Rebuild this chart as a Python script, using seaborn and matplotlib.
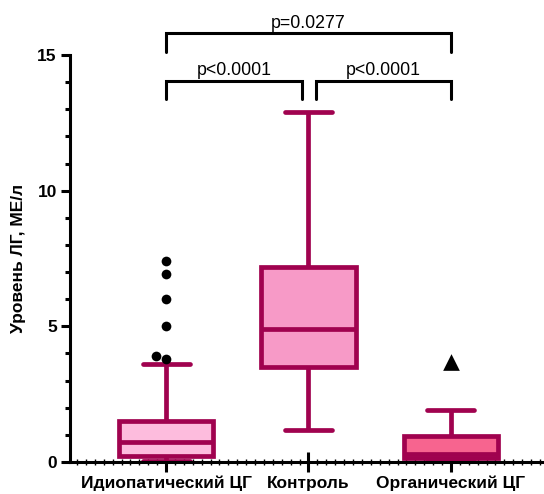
import matplotlib
matplotlib.use("Agg")
import matplotlib.pyplot as plt
from matplotlib.ticker import MultipleLocator
import seaborn as sns
import pandas as pd

# Данные (оценка по рисунку): пятичисловая сводка для каждой группы
groups = ["Идиопатический ЦГ", "Контроль", "Органический ЦГ"]
whisker_low = [0.05, 1.18, 0.03]
q1 = [0.22, 3.5, 0.16]
median = [0.74, 4.9, 0.3]
q3 = [1.5, 7.2, 0.94]
whisker_high = [3.6, 12.9, 1.9]

# Выбросы
outliers_idio = [7.39, 6.94, 6.0, 5.01, 3.91, 3.81]
outliers_org = [3.69]

# Сравнения и p-значения
comparisons = [
    ("Идиопатический ЦГ", "Контроль", "p<0.0001"),
    ("Контроль", "Органический ЦГ", "p<0.0001"),
    ("Идиопатический ЦГ", "Органический ЦГ", "p=0.0277"),
]
bracket_levels = [14.05, 14.05, 15.8]

fills = ["#FDBCDD", "#F79AC7", "#F7648F"]
edge = "#A0024F"

sns.set_style("ticks")
plt.rcParams['font.family'] = ['Liberation Sans', 'DejaVu Sans']
plt.rcParams['text.color'] = 'black'
plt.rcParams['axes.labelcolor'] = 'black'
plt.rcParams['xtick.color'] = 'black'
plt.rcParams['ytick.color'] = 'black'
plt.rcParams['axes.edgecolor'] = 'black'

# таблица для seaborn: 5 точек на группу -> квартили совпадают со сводкой
rows = []
for i, g in enumerate(groups):
    for v in (whisker_low[i], q1[i], median[i], q3[i], whisker_high[i]):
        rows.append({"group": g, "value": v})
df = pd.DataFrame(rows)

df_out = pd.DataFrame({"group": [groups[0]] * len(outliers_idio), "value": outliers_idio})
df_tri = pd.DataFrame({"group": [groups[2]] * len(outliers_org), "value": outliers_org})

fig = plt.figure(figsize=(5.44, 4.94), dpi=100)
ax = fig.add_axes([70 / 544, 32 / 494, 1 - 70 / 544, 407 / 494])

sns.boxplot(data=df, x="group", y="value", hue="group", order=groups, hue_order=groups,
            palette=fills, saturation=1, linecolor=edge, linewidth=3.4, width=0.66,
            whis=(0, 100), showfliers=False, legend=False, ax=ax)

sns.swarmplot(data=df_out, x="group", y="value", order=groups, color="black",
              size=7, ax=ax)
sns.stripplot(data=df_tri, x="group", y="value", order=groups, color="black",
              marker="^", size=12, jitter=False, ax=ax)

ax.set_xlim(-0.674, 2.653)
ax.set_ylim(0, 15)

# скобки сравнения
for (g1, g2, label), lvl in zip(comparisons, bracket_levels):
    x1, x2 = groups.index(g1), groups.index(g2)
    if x1 == 1:
        x1 += 0.05
    if x2 == 1:
        x2 -= 0.045
    ax.plot([x1, x1, x2, x2], [lvl - 0.68, lvl, lvl, lvl - 0.68], color="black",
            lw=2.2, clip_on=False, solid_joinstyle="miter")
    ax.text((x1 + x2) / 2, lvl + 0.06, label, ha="center", va="bottom",
            fontsize=12.8, clip_on=False)

sns.despine(ax=ax)
ax.spines["left"].set_linewidth(2.2)
ax.spines["bottom"].set_linewidth(2.2)

ax.yaxis.set_major_locator(MultipleLocator(5))
ax.yaxis.set_minor_locator(MultipleLocator(1))
ax.xaxis.set_minor_locator(MultipleLocator(0.0625))
ax.tick_params(axis="y", which="major", length=6.5, width=2.2, pad=3,
               labelsize=12.5)
ax.tick_params(axis="y", which="minor", length=3.6, width=2.2)
ax.tick_params(axis="x", which="major", direction="inout", length=14, width=2.2,
               pad=3, labelsize=12.5)
ax.tick_params(axis="x", which="minor", direction="inout", length=4.5, width=1)
for lab in ax.get_yticklabels() + ax.get_xticklabels():
    lab.set_fontweight("bold")

ax.set_xlabel("")
ax.set_ylabel("Уровень ЛГ, МЕ/л", fontsize=12.5, fontweight="bold", labelpad=8)

fig.savefig("out.png", dpi=100)
